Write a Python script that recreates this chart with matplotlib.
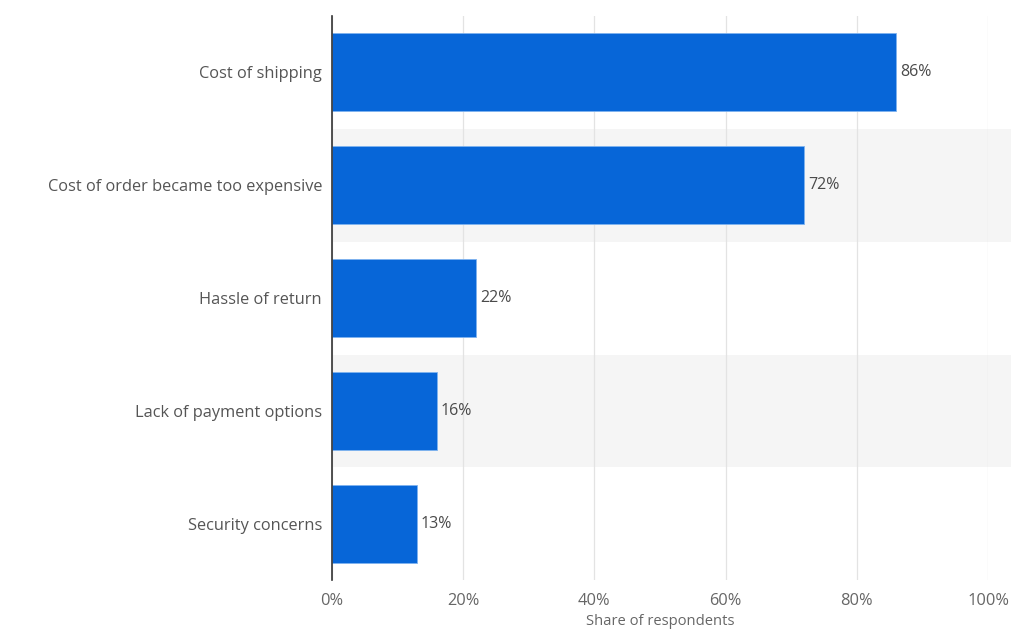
import matplotlib
matplotlib.use("Agg")
from matplotlib import pyplot as plt

categories = ["Cost of shipping", "Cost of order became too expensive", "Hassle of return",
              "Lack of payment options", "Security concerns"]
values = [86, 72, 22, 16, 13]
xticks = [0, 20, 40, 60, 80, 100]

plt.rcParams['font.family'] = ['Open Sans', 'DejaVu Sans']
fig = plt.figure(figsize=(10.24, 6.39), dpi=100)
ax = fig.add_axes([0.324, 0.092, 0.641, 0.883])

n = len(categories)
ypos = list(range(n))[::-1]  # first category on top

# alternating grey bands behind rows 2 and 4
for i, y in enumerate(ypos):
    if i % 2 == 1:
        ax.barh(y, 103.5, height=1.0, left=0, color="#f5f5f5", zorder=0, clip_on=False)

ax.barh(ypos, values, height=0.69, color="#0766d8", edgecolor="#7fb3ef", linewidth=0.6, zorder=3)
for y, v in zip(ypos, values):
    ax.text(v + 0.6, y, f"{v}%", va="center", ha="left", fontsize=11.5, color="#4a4a4a", zorder=4)

ax.set_xlim(0, 100)
ax.set_ylim(-0.5, n - 0.5)
ax.set_yticks(ypos)
ax.set_yticklabels(categories, fontsize=11.8, color="#555555")
ax.set_xticks(xticks)
ax.set_xticklabels([f"{t}%" for t in xticks], fontsize=11.8, color="#666666")
ax.tick_params(axis="both", length=0)
ax.tick_params(axis="y", pad=7)
ax.tick_params(axis="x", pad=9)
ax.xaxis.grid(True, color="#e3e3e3", linewidth=0.9, zorder=1)
ax.set_axisbelow(True)
for s in ["top", "right", "bottom"]:
    ax.spines[s].set_visible(False)
ax.spines["left"].set_color("#333333")
ax.spines["left"].set_linewidth(1.2)
ax.spines["left"].set_zorder(5)
ax.set_xlabel("Share of respondents", fontsize=10.6, color="#666666", labelpad=4)

fig.savefig("out.png", dpi=100)
